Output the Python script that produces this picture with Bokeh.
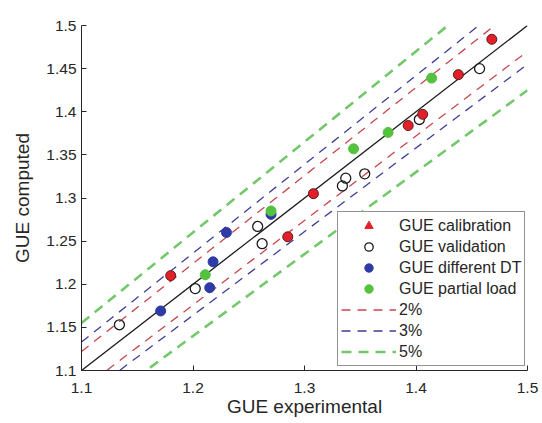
from bokeh.plotting import figure
from bokeh.models import Range1d, FixedTicker, Legend, LegendItem
from bokeh.embed import file_html
from bokeh.resources import INLINE
import numpy as np

# ---- data ----
cal_x = [1.180, 1.285, 1.308, 1.393, 1.406, 1.438, 1.468]
cal_y = [1.210, 1.255, 1.305, 1.384, 1.397, 1.443, 1.484]

val_x = [1.134, 1.202, 1.258, 1.262, 1.334, 1.337, 1.354, 1.403, 1.457]
val_y = [1.153, 1.195, 1.267, 1.247, 1.314, 1.323, 1.328, 1.391, 1.450]

dt_x = [1.171, 1.215, 1.218, 1.230, 1.270]
dt_y = [1.169, 1.196, 1.226, 1.260, 1.281]

pl_x = [1.211, 1.270, 1.344, 1.375, 1.414]
pl_y = [1.211, 1.285, 1.357, 1.376, 1.439]

tolerances = [0.02, 0.03, 0.05]
tol_labels = ["2%", "3%", "5%"]

x_ticks = [1.1, 1.2, 1.3, 1.4, 1.5]
x_tick_labels = ["1.1", "1.2", "1.3", "1.4", "1.5"]
y_ticks = [1.1, 1.15, 1.2, 1.25, 1.3, 1.35, 1.4, 1.45, 1.5]
y_tick_labels = ["1.1", "1.15", "1.2", "1.25", "1.3", "1.35", "1.4", "1.45", "1.5"]

FONT = "Liberation Sans"
TXT = "#262626"

p = figure(width=540, height=422, output_backend="svg", toolbar_location=None,
           x_range=Range1d(1.1, 1.5), y_range=Range1d(1.1, 1.5),
           min_border_left=81, min_border_right=13, min_border_top=25,
           min_border_bottom=52)
p.outline_line_color = None
p.xgrid.visible = False
p.ygrid.visible = False
p.background_fill_color = "white"
p.border_fill_color = "white"

for ax in (p.xaxis[0], p.yaxis[0]):
    ax.axis_line_color = TXT
    ax.axis_line_width = 1
    ax.major_tick_line_color = TXT
    ax.major_tick_in = 5
    ax.major_tick_out = 0
    ax.minor_tick_line_color = None
    ax.major_label_text_font = FONT
    ax.major_label_text_font_size = "15.5px"
    ax.major_label_text_color = TXT
    ax.axis_label_text_font = FONT
    ax.axis_label_text_font_size = "19px"
    ax.axis_label_text_font_style = "normal"
    ax.axis_label_text_color = TXT

p.xaxis.ticker = FixedTicker(ticks=x_ticks)
p.yaxis.ticker = FixedTicker(ticks=y_ticks)
p.xaxis.major_label_overrides = {t: l for t, l in zip(x_ticks, x_tick_labels)}
p.yaxis.major_label_overrides = {t: l for t, l in zip(y_ticks, y_tick_labels)}
p.xaxis.axis_label = "GUE experimental"
p.yaxis.axis_label = "GUE computed"
p.xaxis.major_label_standoff = 12
p.xaxis.axis_label_standoff = 0
p.yaxis.major_label_standoff = 5
p.yaxis.axis_label_standoff = 10

# reference lines y = x and y = x(1 +/- tol)
lx = np.array([1.1, 1.5])
tol_colors = ["#c8464e", "#3c3f98", "#72c86a"]
tol_widths = [1.3, 1.3, 2.6]
tol_dash = ["9 7", "9 7", "10 7"]
tol_renderers = []
p.line(lx, lx, line_color="#1a1a1a", line_width=1.3)
for t, c, w, d in zip(tolerances, tol_colors, tol_widths, tol_dash):
    r1 = p.line(lx, lx * (1 + t), line_color=c, line_width=w, line_dash=d)
    r2 = p.line(lx, lx * (1 - t), line_color=c, line_width=w, line_dash=d)
    tol_renderers.append([r1, r2])

# data markers
r_val = p.scatter(val_x, val_y, marker="circle", size=10, fill_alpha=0,
                  line_color="#1a1a1a", line_width=1.3)
r_cal = p.scatter(cal_x, cal_y, marker="circle", size=10, fill_color="#e3202a",
                  line_color="#5a1a1a", line_width=1)
r_dt = p.scatter(dt_x, dt_y, marker="circle", size=10, fill_color="#2e3aa6",
                 line_color="#2e3aa6", line_width=1)
r_pl = p.scatter(pl_x, pl_y, marker="circle", size=10, fill_color="#54c23e",
                 line_color="#54c23e", line_width=1)
# legend-only triangle (point placed outside the visible range)
r_tri = p.scatter([0.0], [0.0], marker="triangle", size=13, fill_color="#e3202a",
                  line_color="#e3202a")

items = [
    LegendItem(label="GUE calibration", renderers=[r_tri]),
    LegendItem(label="GUE validation", renderers=[r_val]),
    LegendItem(label="GUE different DT", renderers=[r_dt]),
    LegendItem(label="GUE partial load", renderers=[r_pl]),
]
for lab, rs in zip(tol_labels, tol_renderers):
    items.append(LegendItem(label=lab, renderers=[rs[0]]))

legend = Legend(items=items, location=(256, 4), padding=3, spacing=0,
                glyph_width=55, glyph_height=21, label_height=21,
                label_standoff=3, label_text_font=FONT,
                label_text_font_size="16px", label_text_color=TXT,
                border_line_color=TXT, border_line_width=1,
                background_fill_color="white", background_fill_alpha=1,
                margin=0)
p.add_layout(legend)

open("out.html", "w").write(file_html(p, INLINE))
